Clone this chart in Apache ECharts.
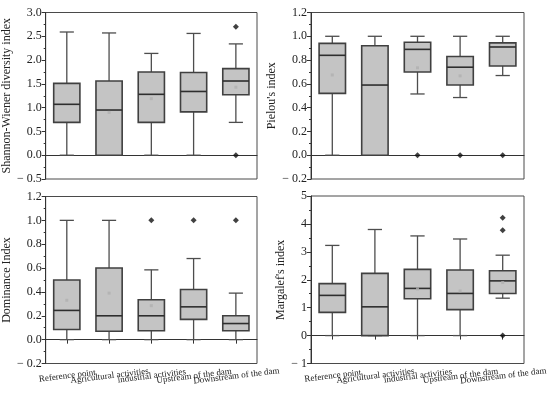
<!DOCTYPE html>
<html>
<head>
<meta charset="utf-8">
<script src="https://cdn.jsdelivr.net/npm/echarts@6/dist/echarts.min.js"></script>
<style>
html,body{margin:0;padding:0;background:#fff;}
#chart{width:550px;height:397px;}
</style>
</head>
<body>
<div id="chart"></div>
<script>
// ---- data ----
const categories = ["Reference point", "Agricultural activities", "industrial activities", "Upstream of the dam", "Downstream of the dam"];

// each box: [lowWhisker, Q1, median, Q3, highWhisker]
const shannonBoxes = [
  [0, 0.69, 1.07, 1.51, 2.59],
  [0, 0, 0.95, 1.56, 2.57],
  [0, 0.69, 1.28, 1.75, 2.14],
  [0, 0.91, 1.34, 1.74, 2.56],
  [0.69, 1.27, 1.56, 1.82, 2.34]
];
const shannonOutliers = [[4, 2.70], [4, 0]];
const shannonMeans = [null, 0.90, 1.19, null, 1.43];

const pielouBoxes = [
  [0, 0.52, 0.84, 0.94, 1.0],
  [0, 0, 0.59, 0.92, 1.0],
  [0.515, 0.70, 0.89, 0.95, 1.0],
  [0.485, 0.59, 0.74, 0.83, 1.0],
  [0.67, 0.75, 0.91, 0.945, 1.0]
];
const pielouOutliers = [[2, 0], [3, 0], [4, 0]];
const pielouMeans = [0.675, null, 0.735, 0.667, null];

const dominanceBoxes = [
  [0, 0.085, 0.245, 0.50, 1.0],
  [0, 0.07, 0.20, 0.60, 1.0],
  [0, 0.075, 0.20, 0.335, 0.585],
  [0, 0.17, 0.275, 0.42, 0.68],
  [0, 0.075, 0.135, 0.20, 0.39]
];
const dominanceOutliers = [[2, 1.0], [3, 1.0], [4, 1.0]];
const dominanceMeans = [0.33, 0.39, 0.285, null, null];

const margalefBoxes = [
  [0, 0.83, 1.44, 1.86, 3.23],
  [0, 0, 1.03, 2.23, 3.80],
  [0, 1.32, 1.69, 2.37, 3.57],
  [0, 0.93, 1.51, 2.35, 3.46],
  [1.34, 1.51, 1.96, 2.32, 2.88]
];
const margalefOutliers = [[4, 4.22], [4, 3.77], [4, 0]];
const margalefMeans = [null, null, 1.67, 1.60, 1.90];

const axisNames = ["Shannon-Wiener diversity index", "Pielou's index", "Dominance Index", "Margalef's index"];
const yMins = [-0.5, -0.2, -0.2, -1];
const yMaxs = [3.0, 1.2, 1.2, 5];
const yIntervals = [0.5, 0.2, 0.2, 1];
const yDecimals = [1, 1, 1, 0];

// ---- chart ----
const FONT = "Liberation Serif";
const grids = [
  {left: 41, top: 12.5, width: 216, height: 166.5},
  {left: 311, top: 12.5, width: 213, height: 166.5},
  {left: 41, top: 196.5, width: 216, height: 167},
  {left: 311, top: 196, width: 213, height: 167.5}
];
const boxesAll = [shannonBoxes, pielouBoxes, dominanceBoxes, margalefBoxes];
const outAll = [shannonOutliers, pielouOutliers, dominanceOutliers, margalefOutliers];
const meanAll = [shannonMeans, pielouMeans, dominanceMeans, margalefMeans];
const nameGaps = [28, 27, 27, 21];

function renderBox(params, api) {
  const x = api.value(0);
  const lo = api.coord([x, api.value(1)]);
  const q1 = api.coord([x, api.value(2)]);
  const md = api.coord([x, api.value(3)]);
  const q3 = api.coord([x, api.value(4)]);
  const hi = api.coord([x, api.value(5)]);
  const bw = api.size([1, 0])[0] * 0.62;
  const cw = bw * 0.54;
  const cx = lo[0];
  const wStyle = {stroke: '#4d4d4d', lineWidth: 1.3};
  const children = [
    {type: 'line', shape: {x1: cx, y1: q3[1], x2: cx, y2: hi[1]}, style: wStyle},
    {type: 'line', shape: {x1: cx, y1: q1[1], x2: cx, y2: lo[1]}, style: wStyle},
    {type: 'line', shape: {x1: cx - cw / 2, y1: hi[1], x2: cx + cw / 2, y2: hi[1]}, style: wStyle},
    {type: 'line', shape: {x1: cx - cw / 2, y1: lo[1], x2: cx + cw / 2, y2: lo[1]}, style: wStyle},
    {type: 'rect', shape: {x: cx - bw / 2, y: q3[1], width: bw, height: q1[1] - q3[1]},
      style: {fill: '#c4c4c4', stroke: '#404040', lineWidth: 1.6}},
    {type: 'line', shape: {x1: cx - bw / 2, y1: md[1], x2: cx + bw / 2, y2: md[1]},
      style: {stroke: '#2e2e2e', lineWidth: 1.6}}
  ];
  return {type: 'group', children: children};
}

const option = {
  backgroundColor: '#fff',
  animation: false,
  grid: grids.map(g => Object.assign({show: true, borderColor: '#4a4a4a', borderWidth: 1, backgroundColor: 'transparent'}, g)),
  xAxis: grids.map((g, i) => ({
    type: 'category', gridIndex: i, data: categories,
    axisLine: {show: true, lineStyle: {color: '#333', width: 1}},
    axisTick: {show: i >= 2, alignWithLabel: true, length: 4, lineStyle: {color: '#333'}},
    axisLabel: i >= 2 ? {show: true, interval: 0, rotate: 7, align: 'center', verticalAlign: 'top', margin: 8,
      fontFamily: FONT, fontSize: 9, color: '#222', hideOverlap: false} : {show: false},
    splitLine: {show: false}
  })),
  yAxis: grids.map((g, i) => ({
    type: 'value', gridIndex: i, min: yMins[i], max: yMaxs[i], interval: yIntervals[i],
    name: axisNames[i], nameLocation: 'middle', nameGap: nameGaps[i],
    nameTextStyle: {fontFamily: FONT, fontSize: 12, color: '#222'},
    axisLine: {show: true, lineStyle: {color: '#333', width: 1}},
    axisTick: {show: true, length: 4, lineStyle: {color: '#333'}},
    minorTick: {show: true, splitNumber: 2, length: 2, lineStyle: {color: '#333'}},
    splitLine: {show: false},
    axisLabel: {fontFamily: FONT, fontSize: 12, color: '#222', margin: 4,
      formatter: v => {
        const s = Math.abs(v).toFixed(yDecimals[i]);
        return v < 0 ? '\u2212 ' + s : s;
      }}
  })),
  series: []
};

for (let i = 0; i < 4; i++) {
  option.series.push({
    type: 'custom', xAxisIndex: i, yAxisIndex: i,
    renderItem: renderBox,
    data: boxesAll[i].map((b, k) => [k].concat(b)),
    encode: {x: 0, y: [1, 2, 3, 4, 5]},
    z: 2
  });
  option.series.push({
    type: 'scatter', xAxisIndex: i, yAxisIndex: i,
    symbol: 'rect', symbolSize: 3,
    itemStyle: {color: '#b0b0b0'},
    data: meanAll[i].map((m, k) => m === null ? null : [k, m]).filter(d => d),
    z: 3
  });
  option.series.push({
    type: 'scatter', xAxisIndex: i, yAxisIndex: i,
    symbol: 'diamond', symbolSize: 6,
    itemStyle: {color: '#111'},
    data: outAll[i],
    z: 4
  });
}

const chart = echarts.init(document.getElementById('chart'), null, {renderer: 'canvas'});
chart.setOption(option);
</script>
</body>
</html>
